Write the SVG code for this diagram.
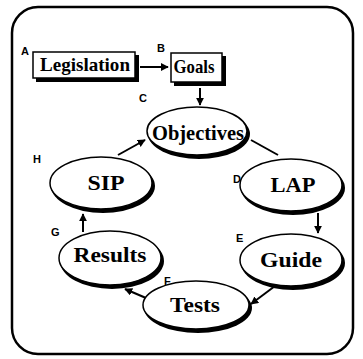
<svg xmlns="http://www.w3.org/2000/svg" width="363" height="359" viewBox="0 0 363 359">
<defs>
<style>
.frame{fill:none;stroke:#000;stroke-width:2.5}
.box{fill:#fff;stroke:#000;stroke-width:1.5}
.sh{fill:#000}
.ell{fill:#fff;stroke:#000;stroke-width:1.5}
.t{font-family:"Liberation Serif","Times New Roman",serif;font-weight:bold;fill:#000;text-anchor:middle}
.lab{font-family:"Liberation Sans",Arial,sans-serif;font-weight:bold;font-size:11px;fill:#000}
.c{fill:none;stroke:#000;stroke-width:2}
</style>
<marker id="ah" viewBox="0 0 10 10" refX="9" refY="5" markerWidth="4" markerHeight="4" orient="auto" markerUnits="strokeWidth">
<path d="M0,0 L10,5 L0,10 z" fill="#000"/>
</marker>
</defs>
<rect x="0" y="0" width="363" height="359" fill="#fff"/>
<rect class="frame" x="12" y="7" width="341" height="347" rx="26" ry="26"/>
<g id="connectors">
<line class="c" x1="140" y1="67" x2="168" y2="67" marker-end="url(#ah)"/>
<line class="c" x1="200" y1="88" x2="200" y2="105" marker-end="url(#ah)"/>
<line class="c" x1="251" y1="140" x2="278" y2="155"/>
<line class="c" x1="318" y1="213" x2="318" y2="233" marker-end="url(#ah)"/>
<line class="c" x1="279" y1="283" x2="251" y2="304" marker-end="url(#ah)"/>
<line class="c" x1="146" y1="298" x2="125" y2="289" marker-end="url(#ah)"/>
<line class="c" x1="83" y1="232" x2="83" y2="214" marker-end="url(#ah)"/>
<line class="c" x1="118" y1="155" x2="145" y2="140" marker-end="url(#ah)"/>
</g>
<g id="legislation">
<rect class="sh" x="36" y="55" width="103" height="27"/>
<rect class="box" x="33" y="52" width="102" height="26"/>
<text class="t" x="85" y="71" font-size="19" textLength="90" lengthAdjust="spacingAndGlyphs">Legislation</text>
<text class="lab" x="21" y="55">A</text>
</g>
<g id="goals">
<rect class="sh" x="174" y="56" width="52" height="30"/>
<rect class="box" x="171" y="53" width="51" height="29"/>
<text class="t" x="194" y="73" font-size="19" textLength="41" lengthAdjust="spacingAndGlyphs">Goals</text>
<text class="lab" x="157" y="52">B</text>
</g>
<g id="objectives">
<ellipse class="sh" cx="199" cy="134" rx="51" ry="25"/>
<ellipse class="ell" cx="197" cy="131" rx="50" ry="24"/>
<text class="t" x="198" y="140" font-size="20" textLength="92" lengthAdjust="spacingAndGlyphs">Objectives</text>
<text class="lab" x="139" y="102">C</text>
</g>
<g id="sip">
<ellipse class="sh" cx="103" cy="186" rx="52" ry="27"/>
<ellipse class="ell" cx="101" cy="183" rx="51" ry="26"/>
<text class="t" x="106" y="190" font-size="22" textLength="37" lengthAdjust="spacingAndGlyphs">SIP</text>
<text class="lab" x="33" y="163">H</text>
</g>
<g id="lap">
<ellipse class="sh" cx="293" cy="188" rx="52" ry="27"/>
<ellipse class="ell" cx="291" cy="185" rx="51" ry="26"/>
<text class="t" x="293" y="192" font-size="22" textLength="45" lengthAdjust="spacingAndGlyphs">LAP</text>
<text class="lab" x="233" y="183">D</text>
</g>
<g id="results">
<ellipse class="sh" cx="112" cy="261" rx="52" ry="28"/>
<ellipse class="ell" cx="110" cy="258" rx="51" ry="27"/>
<text class="t" x="110" y="262" font-size="22" textLength="73" lengthAdjust="spacingAndGlyphs">Results</text>
<text class="lab" x="51" y="236">G</text>
</g>
<g id="guide">
<ellipse class="sh" cx="293" cy="263" rx="52" ry="27"/>
<ellipse class="ell" cx="291" cy="260" rx="51" ry="26"/>
<text class="t" x="291" y="267" font-size="22" textLength="62" lengthAdjust="spacingAndGlyphs">Guide</text>
<text class="lab" x="236" y="242">E</text>
</g>
<g id="tests">
<ellipse class="sh" cx="198" cy="308" rx="54" ry="25"/>
<ellipse class="ell" cx="196" cy="305" rx="53" ry="24"/>
<text class="t" x="195" y="312" font-size="22" textLength="50" lengthAdjust="spacingAndGlyphs">Tests</text>
<text class="lab" x="164" y="285">F</text>
</g>
</svg>
